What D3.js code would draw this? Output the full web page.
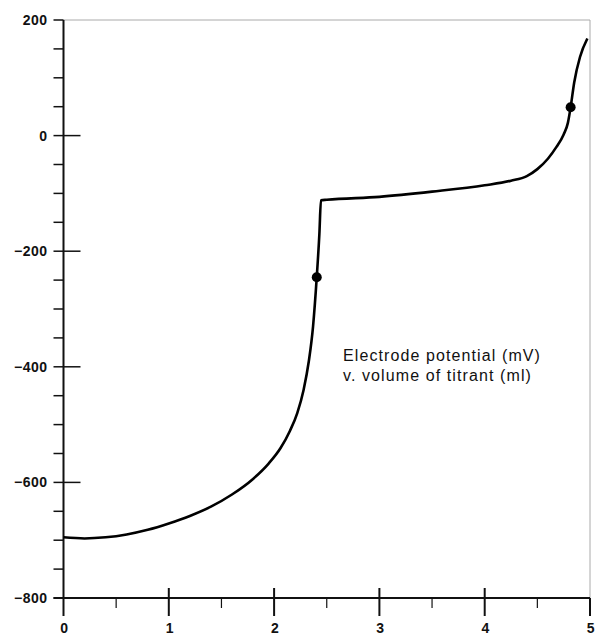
<!DOCTYPE html>
<html>
<head>
<meta charset="utf-8">
<script src="https://cdn.jsdelivr.net/npm/d3@7"></script>
<style>
  body { margin: 0; background: #fff; }
  .tick-label { font-family: "Liberation Sans", Arial, sans-serif; font-weight: bold; font-size: 14px; letter-spacing: 0.5px; fill: #111; }
  .note { font-family: "Liberation Sans", Arial, sans-serif; font-size: 16px; letter-spacing: 1.1px; fill: #111; }
</style>
</head>
<body>
<div id="chart"></div>
<script>
// titration curve: volume of titrant (ml) vs electrode potential (mV)
var volume = [0, 0.2, 0.4, 0.6, 0.8, 1.0, 1.2, 1.4, 1.6, 1.8, 1.95, 2.06, 2.15, 2.22, 2.28, 2.33, 2.37,
  2.405, 2.43, 2.445, 2.5, 3.0, 3.5, 4.0, 4.25, 4.4, 4.5, 4.6, 4.68, 4.75, 4.79, 4.816, 4.85, 4.905, 4.975]
var potential = [-695, -697, -695, -690, -682, -671, -658, -642, -621, -594, -567, -541, -511, -480, -440, -390, -330,
  -245, -170, -112, -111, -106, -97, -86, -78, -70, -58, -40, -20, 2, 22, 49, 92, 136, 168]
var endpointVolume = [2.405, 4.816]
var endpointPotential = [-245, 49]
var xTicks = [0, 1, 2, 3, 4, 5]
var yTicks = [200, 0, -200, -400, -600, -800]

var W = 595, H = 636
var plotL = 63.5, plotR = 590, plotT = 20, plotB = 598

var svg = d3.select("#chart").append("svg")
  .attr("width", W)
  .attr("height", H)

var x = d3.scaleLinear().domain([0, 5]).range([plotL, plotR])
var y = d3.scaleLinear().domain([-800, 200]).range([plotB, plotT])

// frame (top & right are faint in the original)
svg.append("line")
  .attr("x1", plotL).attr("x2", plotR).attr("y1", plotT).attr("y2", plotT)
  .attr("stroke", "#aaa").attr("stroke-width", 1)
svg.append("line")
  .attr("x1", plotR).attr("x2", plotR).attr("y1", plotT).attr("y2", plotB)
  .attr("stroke", "#aaa").attr("stroke-width", 1)

// minor y ticks every 50, majors cross the axis
svg.append("g").selectAll("line")
  .data(d3.range(-800, 201, 50))
  .enter().append("line")
    .attr("x1", plotL - 10)
    .attr("x2", function(d) { return (d % 200 === 0 && d !== 200 && d !== -800) ? plotL + 17 : plotL })
    .attr("y1", function(d) { return y(d) }).attr("y2", function(d) { return y(d) })
    .attr("stroke", "#111").attr("stroke-width", 1.5)

// minor x ticks every 0.5
svg.append("g").selectAll("line")
  .data(d3.range(0, 5.01, 0.5))
  .enter().append("line")
    .attr("x1", function(d) { return x(d) }).attr("x2", function(d) { return x(d) })
    .attr("y1", function(d) { return (d % 1 === 0 && d > 0 && d < 5) ? plotB - 10 : plotB })
    .attr("y2", function(d) { return d % 1 === 0 ? plotB + 18 : plotB + 10 })
    .attr("stroke", "#111").attr("stroke-width", function(d) { return d % 1 === 0 ? 2 : 1.2 })

// axes lines
svg.append("line")
  .attr("x1", plotL).attr("x2", plotL).attr("y1", plotT).attr("y2", plotB)
  .attr("stroke", "#111").attr("stroke-width", 2)
svg.append("line")
  .attr("x1", plotL - 10).attr("x2", plotR).attr("y1", plotB).attr("y2", plotB)
  .attr("stroke", "#111").attr("stroke-width", 2)

// tick labels
svg.append("g").selectAll("text")
  .data(yTicks)
  .enter().append("text")
    .attr("class", "tick-label")
    .attr("x", plotL - 16)
    .attr("y", function(d) { return y(d) })
    .attr("dy", "0.35em")
    .attr("text-anchor", "end")
    .text(function(d) { return d < 0 ? "\u2212" + Math.abs(d) : d })

svg.append("g").selectAll("text")
  .data(xTicks)
  .enter().append("text")
    .attr("class", "tick-label")
    .attr("x", function(d) { return x(d) + 1 })
    .attr("y", 633)
    .attr("text-anchor", "middle")
    .text(function(d) { return d })

// curve
var line = d3.line()
  .x(function(d, i) { return x(volume[i]) })
  .y(function(d, i) { return y(potential[i]) })
  .curve(d3.curveMonotoneX)

svg.append("path")
  .datum(potential)
  .attr("fill", "none")
  .attr("stroke", "#000")
  .attr("stroke-width", 2.6)
  .attr("stroke-linejoin", "round")
  .attr("d", line)

svg.append("g").selectAll("circle")
  .data(endpointVolume)
  .enter().append("circle")
    .attr("cx", function(d) { return x(d) })
    .attr("cy", function(d, i) { return y(endpointPotential[i]) })
    .attr("r", 5)
    .attr("fill", "#000")

// caption inside plot
var note = svg.append("text").attr("class", "note").attr("x", 343).attr("y", 361)
note.append("tspan").attr("x", 343).text("Electrode potential (mV)")
note.append("tspan").attr("x", 343).attr("dy", 19.5).text("v. volume of titrant (ml)")
</script>
</body>
</html>
